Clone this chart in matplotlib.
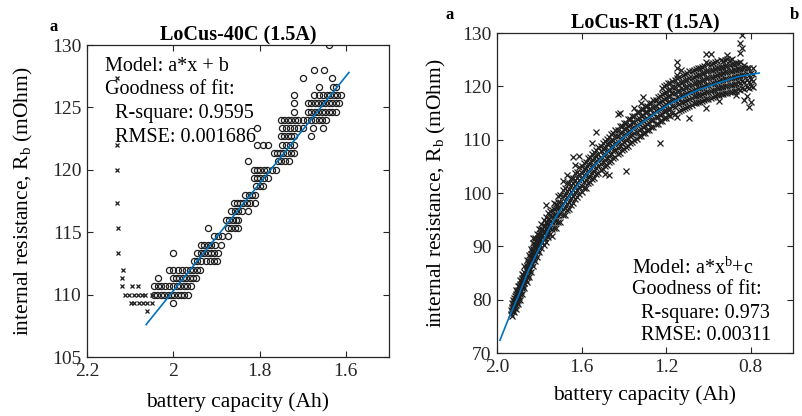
import matplotlib
matplotlib.use("Agg")
import matplotlib.pyplot as plt

plt.rcParams['font.family'] = ['Liberation Serif', 'DejaVu Serif']
plt.rcParams['mathtext.fontset'] = 'custom'
plt.rcParams['mathtext.rm'] = 'Liberation Serif'
plt.rcParams['mathtext.it'] = 'Liberation Serif:italic'
plt.rcParams['mathtext.bf'] = 'Liberation Serif:bold'

# ---------------- data: left panel (LoCus-40C) ----------------
# excluded points ('x' markers): capacity, resistance
excl_cap = [2.060, 2.098, 2.090, 2.080, 2.070, 2.060, 2.050,
            2.112, 2.102, 2.092, 2.082, 2.072, 2.065, 2.049,
            2.119, 2.095, 2.081, 2.119, 2.116, 2.128, 2.128,
            2.130, 2.130, 2.130, 2.130]
excl_res = [108.67, 109.33, 109.33, 109.33, 109.33, 109.33, 109.33,
            110.0, 110.0, 110.0, 110.0, 110.0, 110.0, 110.0,
            110.67, 110.67, 110.67, 111.33, 112.0, 113.33, 115.33,
            117.33, 120.0, 122.0, 127.33]

# fitted points ('o' markers), grouped by resistance level
fit_rows = {
    109.33: [2.0],
    110.00: [2.045, 2.037, 2.029, 2.021, 2.013, 2.005, 1.998, 1.990, 1.983, 1.975, 1.967],
    110.67: [2.044, 2.036, 2.028, 2.020, 2.010, 2.000, 1.992, 1.984, 1.976, 1.968, 1.960],
    111.33: [2.035, 2.000, 1.993, 1.986, 1.978, 1.970, 1.962, 1.955, 1.947],
    112.00: [2.010, 2.000, 1.990, 1.980, 1.970, 1.962, 1.955, 1.945, 1.938],
    112.67: [1.953, 1.945, 1.935, 1.925, 1.915, 1.905, 1.898],
    113.33: [2.000, 1.944, 1.936, 1.928, 1.920, 1.912, 1.905, 1.897],
    114.00: [1.936, 1.928, 1.920, 1.912, 1.904, 1.890],
    114.67: [1.906, 1.896, 1.887, 1.873],
    115.33: [1.919, 1.874, 1.866, 1.858, 1.850],
    116.00: [1.878, 1.870, 1.862, 1.855, 1.849],
    116.67: [1.866, 1.858, 1.850, 1.840, 1.828],
    117.33: [1.860, 1.852, 1.845, 1.838, 1.830, 1.822, 1.810],
    118.00: [1.833, 1.825, 1.818, 1.810],
    118.67: [1.809, 1.800, 1.791],
    119.33: [1.814, 1.806, 1.798, 1.790, 1.781],
    120.00: [1.814, 1.806, 1.798, 1.790, 1.782, 1.772, 1.763],
    120.67: [1.828, 1.758, 1.750, 1.742, 1.733],
    121.33: [1.767, 1.760, 1.752, 1.745, 1.737, 1.728, 1.720],
    122.00: [1.805, 1.793, 1.781, 1.747, 1.738, 1.729, 1.720],
    122.67: [1.751, 1.743, 1.735, 1.727, 1.720, 1.681],
    123.33: [1.805, 1.747, 1.738, 1.729, 1.720, 1.710, 1.700, 1.677, 1.653],
    124.00: [1.751, 1.743, 1.735, 1.727, 1.718, 1.710, 1.700, 1.690, 1.680,
             1.672, 1.663, 1.655, 1.647],
    124.67: [1.720, 1.688, 1.680, 1.672, 1.664, 1.656, 1.648, 1.640, 1.632, 1.623],
    125.33: [1.720, 1.688, 1.680, 1.672, 1.664, 1.656, 1.648, 1.640, 1.632, 1.624, 1.616],
    126.00: [1.720, 1.674, 1.662, 1.652, 1.644, 1.636, 1.628, 1.620, 1.612],
    126.67: [1.663, 1.630, 1.622],
    127.33: [1.700, 1.633],
    128.00: [1.674, 1.651],
    130.00: [1.640],
}

lin_fit_cap = [2.063, 1.593]
lin_fit_res = [107.6, 127.8]

# ---------------- data: right panel (LoCus-RT) ----------------
rt_cols = {
    1.93: [76.9, 77.8, 78.6, 79.4],
    1.92: [77.6, 78.5, 79.6, 80.4],
    1.91: [78.2, 79.0, 80.1, 81.0, 81.8],
    1.90: [79.1, 80.0, 80.9, 81.9, 82.6],
    1.89: [80.0, 81.0, 81.8, 82.9, 83.6],
    1.88: [81.0, 82.1, 83.0, 84.1, 84.9],
    1.87: [82.1, 83.2, 84.0, 85.1, 86.3],
    1.86: [83.3, 84.2, 85.4, 86.3, 87.4],
    1.85: [84.3, 85.4, 86.5, 87.3, 88.4],
    1.84: [85.2, 86.6, 87.4, 88.6, 89.5],
    1.83: [86.4, 87.6, 88.6, 89.5, 90.7, 91.5],
    1.82: [87.3, 88.3, 89.6, 90.4, 91.6],
    1.81: [88.0, 89.1, 90.3, 91.2, 92.4],
    1.80: [88.9, 90.0, 91.0, 92.2, 93.3],
    1.79: [89.6, 90.8, 91.9, 93.0, 94.1],
    1.78: [90.2, 91.5, 92.6, 93.8, 94.9],
    1.77: [90.9, 92.2, 93.4, 94.5, 95.5, 97.8],
    1.76: [91.7, 92.9, 94.1, 95.2, 96.2],
    1.75: [92.3, 93.5, 94.7, 95.8, 96.6],
    1.73: [93.5, 94.8, 95.9, 97.0, 98.2],
    1.71: [94.6, 95.9, 97.1, 98.3, 99.4],
    1.69: [95.8, 97.0, 98.2, 99.5, 100.6, 102.2],
    1.67: [96.9, 98.0, 99.3, 100.4, 101.8, 103.4],
    1.65: [97.8, 99.0, 100.2, 101.5, 102.8],
    1.63: [98.9, 100.1, 101.4, 102.5, 103.7, 105.2],
    1.61: [99.8, 101.1, 102.4, 103.6, 104.8, 106.9],
    1.59: [100.9, 102.0, 103.3, 104.5, 105.6],
    1.57: [101.9, 103.0, 104.2, 105.4, 106.6],
    1.55: [102.6, 103.8, 105.0, 106.1, 107.3, 109.4],
    1.53: [103.5, 104.7, 105.8, 107.0, 108.1, 111.4],
    1.51: [104.3, 105.5, 106.6, 107.8, 108.9],
    1.49: [105.0, 106.2, 107.4, 108.5, 109.8, 103.6],
    1.47: [105.8, 107.0, 108.1, 109.3, 110.5, 103.4],
    1.45: [106.6, 107.8, 108.9, 110.0, 111.2],
    1.43: [107.3, 108.5, 109.6, 110.7, 111.9, 114.8],
    1.41: [108.0, 109.2, 110.3, 111.4, 112.5],
    1.39: [108.7, 109.9, 111.0, 112.1, 113.2, 104.1],
    1.37: [109.4, 110.6, 111.6, 112.7, 113.9],
    1.35: [110.0, 111.2, 112.3, 113.4, 114.5, 116.0],
    1.33: [110.6, 111.8, 112.9, 114.0, 115.1],
    1.31: [111.2, 112.4, 113.5, 114.6, 115.7, 118.0],
    1.29: [111.8, 113.0, 114.1, 115.2, 116.3],
    1.27: [112.4, 113.6, 114.7, 115.8, 116.9],
    1.25: [113.0, 114.2, 115.3, 116.4, 117.5],
    1.23: [113.5, 114.7, 115.8, 117.0, 118.2, 109.4],
    1.21: [114.0, 115.3, 116.4, 117.6, 118.8, 120.0],
    1.19: [114.6, 115.8, 117.0, 118.2, 119.4, 120.6],
    1.17: [115.0, 116.3, 117.5, 118.7, 119.9, 121.0],
    1.15: [114.2, 116.8, 118.0, 119.2, 120.4, 121.6, 124.5, 123.4, 122.1],
    1.13: [115.6, 117.0, 118.3, 119.6, 120.8, 123.0],
    1.11: [116.0, 117.3, 118.6, 119.9, 121.1, 122.3],
    1.09: [114.0, 116.4, 117.7, 119.0, 120.2, 121.5, 122.8],
    1.07: [116.8, 118.1, 119.3, 120.6, 121.8, 123.0],
    1.05: [117.0, 118.3, 119.6, 120.9, 122.1, 123.4],
    1.03: [117.3, 118.6, 119.9, 121.2, 122.5, 123.7],
    1.01: [115.9, 117.6, 118.9, 120.2, 121.5, 122.8, 124.6, 126.1],
    0.99: [117.9, 119.2, 120.5, 121.8, 123.0, 124.2, 126.1],
    0.97: [118.1, 119.4, 120.7, 122.0, 123.3, 124.5],
    0.95: [117.3, 118.4, 119.7, 121.0, 122.3, 123.5],
    0.93: [118.6, 119.9, 121.2, 122.5, 123.7, 124.8],
    0.91: [118.8, 120.1, 121.4, 122.7, 123.9, 125.1, 125.9],
    0.89: [119.0, 120.3, 121.6, 122.9, 124.1, 125.2],
    0.87: [118.4, 119.2, 120.5, 121.8, 123.0, 124.3],
    0.85: [119.4, 120.7, 122.0, 123.2, 124.5, 126.3, 128.1],
    0.84: [129.6, 127.2],
    0.83: [117.4, 119.5, 120.8, 122.1, 123.4, 124.0],
    0.81: [116.1, 119.6, 120.9, 122.2, 123.5],
    0.79: [119.8, 121.0, 122.3, 123.4],
}

# further points between the columns above
rt_cols_mid = {
    1.935: [77.3, 78.1], 1.925: [78.0, 79.1, 80.0], 1.915: [78.8, 79.8, 80.7],
    1.905: [79.5, 80.6, 81.4], 1.895: [80.5, 81.4, 82.5], 1.885: [81.6, 82.6, 83.5],
    1.875: [82.6, 83.7, 84.6], 1.865: [83.7, 84.8, 85.8], 1.855: [84.7, 85.9, 86.9],
    1.845: [85.8, 86.9, 88.0], 1.835: [86.8, 88.0, 89.1], 1.825: [87.8, 88.9, 90.0],
    1.815: [88.6, 89.7, 90.8], 1.805: [89.4, 90.5, 91.6], 1.795: [90.2, 91.3, 92.5],
    1.785: [90.9, 92.0, 93.2], 1.775: [91.6, 92.8, 93.9], 1.765: [92.3, 93.5, 94.6],
    1.74: [92.0, 93.3, 94.5, 95.6, 96.9],
    1.72: [93.5, 94.7, 95.9, 97.2, 98.0],
    1.70: [94.6, 96.0, 97.3, 98.4, 99.6],
    1.68: [95.9, 97.1, 98.5, 99.7, 100.9],
    1.66: [97.0, 98.3, 99.5, 100.7, 101.9],
    1.64: [98.1, 99.4, 100.6, 101.8, 102.9, 106.8],
    1.62: [99.2, 100.5, 101.7, 102.9, 104.0],
    1.60: [100.1, 101.4, 102.7, 103.8, 105.0],
    1.58: [101.0, 102.4, 103.6, 104.7, 105.9],
    1.56: [102.0, 103.2, 104.5, 105.7, 106.8],
    1.54: [102.8, 104.1, 105.3, 106.6, 107.7],
    1.52: [103.7, 105.0, 106.3, 107.4, 108.6],
    1.50: [104.5, 105.8, 107.1, 108.2, 109.4],
    1.48: [105.3, 106.6, 107.9, 109.1, 110.2],
    1.46: [106.0, 107.3, 108.6, 109.8, 111.0],
    1.44: [106.8, 108.1, 109.4, 110.6, 111.8],
    1.42: [107.5, 108.8, 110.1, 111.3, 112.5, 115.0],
    1.40: [108.2, 109.5, 110.8, 112.0, 113.2],
    1.38: [108.8, 110.1, 111.4, 112.6, 113.8],
    1.36: [109.5, 110.8, 112.1, 113.3, 114.5],
    1.34: [110.1, 111.4, 112.7, 113.9, 115.1],
    1.32: [110.7, 112.0, 113.3, 114.5, 115.7, 116.9],
    1.30: [111.3, 112.6, 113.9, 115.1, 116.3],
    1.28: [111.9, 113.2, 114.5, 115.7, 116.9],
    1.26: [112.4, 113.7, 115.0, 116.2, 117.4],
    1.24: [113.0, 114.3, 115.6, 116.8, 118.0],
    1.22: [113.5, 114.8, 116.1, 117.3, 118.5, 119.6],
    1.20: [114.0, 115.3, 116.6, 117.8, 119.0, 120.2],
    1.18: [114.4, 115.7, 117.0, 118.2, 119.4, 120.7],
    1.16: [114.9, 116.2, 117.5, 118.7, 119.9, 121.2],
    1.14: [115.3, 116.6, 117.9, 119.1, 120.3, 121.7],
    1.12: [115.7, 117.0, 118.3, 119.5, 120.8, 122.1],
    1.10: [116.1, 117.4, 118.7, 119.9, 121.2, 122.5],
    1.08: [116.5, 117.8, 119.1, 120.3, 121.6, 122.9],
    1.06: [116.8, 118.1, 119.4, 120.6, 121.9, 123.2],
    1.04: [117.1, 118.4, 119.7, 120.9, 122.2, 123.5],
    1.02: [117.4, 118.7, 120.0, 121.2, 122.5, 123.8],
    1.00: [117.7, 119.0, 120.3, 121.5, 122.8, 124.1],
    0.98: [118.0, 119.3, 120.6, 121.8, 123.1, 124.4],
    0.96: [118.3, 119.6, 120.9, 122.1, 123.4, 124.7],
    0.94: [118.5, 119.8, 121.1, 122.3, 123.6, 124.9],
    0.92: [118.8, 120.1, 121.4, 122.6, 123.9, 125.0],
    0.90: [119.0, 120.3, 121.6, 122.8, 124.0, 124.9],
    0.88: [119.2, 120.5, 121.8, 123.0, 124.1],
    0.86: [119.5, 120.8, 122.0, 123.2, 124.3],
    0.84: [119.7, 121.0, 122.2, 123.3],
    0.82: [119.9, 121.2, 122.4, 123.5, 118.2],
    0.80: [120.1, 121.3, 122.5, 117.0],
}

pow_fit_cap = [1.986, 1.95, 1.90, 1.85, 1.80, 1.75, 1.70, 1.65, 1.60, 1.55, 1.50,
               1.45, 1.40, 1.35, 1.30, 1.25, 1.20, 1.15, 1.10, 1.05, 1.00, 0.95,
               0.90, 0.85, 0.76]
pow_fit_res = [72.4, 76.0, 80.6, 85.6, 89.6, 93.6, 96.9, 99.8, 102.4, 104.7, 106.8,
               108.7, 110.5, 112.1, 113.6, 115.0, 116.3, 117.4, 118.4, 119.3, 120.0,
               120.7, 121.3, 121.9, 122.5]

FIT_BLUE = '#0072BD'
EDGE = '#262626'
MARK = '#1e1e1e'

fig = plt.figure(figsize=(8.02, 4.16), dpi=100)
ax1 = fig.add_axes([0.1085, 0.1418, 0.3766, 0.75])
ax2 = fig.add_axes([0.6197, 0.1514, 0.3691, 0.7692])

# ----- left panel -----
ax1.plot(excl_cap, excl_res, linestyle='none', marker='x', markersize=3.2,
         markeredgewidth=0.9, color=MARK, zorder=3)
for lvl, caps in fit_rows.items():
    ax1.plot(caps, [lvl] * len(caps), linestyle='none', marker='o', markersize=4.4,
             markerfacecolor='none', markeredgewidth=0.9, markeredgecolor=MARK, zorder=3)
ax1.plot(lin_fit_cap, lin_fit_res, color=FIT_BLUE, linewidth=1.2, zorder=4)
ax1.set_xlim(2.2, 1.5)
ax1.set_ylim(105, 130)
ax1.set_xticks([2.2, 2.0, 1.8, 1.6])
ax1.set_xticklabels(['2.2', '2', '1.8', '1.6'])
ax1.set_yticks([105, 110, 115, 120, 125, 130])
ax1.set_title('LoCus-40C (1.5A)', fontsize=14.5, fontweight='bold', pad=3)

left_txt = [('Model: a*x + b', 0.06, 0.932), ('Goodness of fit:', 0.06, 0.858),
            ('R-square: 0.9595', 0.093, 0.779), ('RMSE: 0.001686', 0.093, 0.705)]
for s, x, y in left_txt:
    ax1.text(x, y, s, transform=ax1.transAxes, fontsize=14.5, va='center', ha='left')

# ----- right panel -----
for cols in (rt_cols, rt_cols_mid):
    for cap, vals in cols.items():
        ax2.plot([cap] * len(vals), vals, linestyle='none', marker='x', markersize=3.8,
                 markeredgewidth=0.9, color=MARK, zorder=3)
ax2.plot(pow_fit_cap, pow_fit_res, color=FIT_BLUE, linewidth=1.2, zorder=4)
ax2.set_xlim(2.0, 0.6)
ax2.set_ylim(70, 130)
ax2.set_xticks([2.0, 1.6, 1.2, 0.8])
ax2.set_xticklabels(['2.0', '1.6', '1.2', '0.8'])
ax2.set_yticks([70, 80, 90, 100, 110, 120, 130])
ax2.set_title('LoCus-RT (1.5A)', fontsize=14.5, fontweight='bold', pad=3)

right_txt = [('Model: a*x$^{\\mathrm{b}}$+c', 0.456, 0.266), ('Goodness of fit:', 0.456, 0.197),
             ('R-square: 0.973', 0.486, 0.125), ('RMSE: 0.00311', 0.486, 0.056)]
for s, x, y in right_txt:
    ax2.text(x, y, s, transform=ax2.transAxes, fontsize=14.5, va='center', ha='left')

ylabel = 'internal resistance, R$_{\\mathrm{b}}$ (mOhm)'
for ax, ylx, xly in [(ax1, -0.212, -0.144), (ax2, -0.203, -0.131)]:
    ax.set_xlabel('battery capacity (Ah)', fontsize=15.5)
    ax.set_ylabel(ylabel, fontsize=15.5)
    ax.xaxis.label.set_va('center')
    ax.yaxis.label.set_va('center')
    ax.yaxis.set_label_coords(ylx, 0.5)
    ax.xaxis.set_label_coords(0.5, xly)
    ax.tick_params(direction='in', top=True, right=True, length=4, width=0.8,
                   labelsize=14, colors=EDGE, labelcolor='#262626')
    ax.tick_params(axis='x', pad=4)
    ax.tick_params(axis='y', pad=4)
    for sp in ax.spines.values():
        sp.set_color(EDGE)
        sp.set_linewidth(0.9)

fig.text(50 / 802, 1 - 27 / 416, 'a', fontsize=12, fontweight='bold', ha='left', va='center')
fig.text(445 / 802, 1 - 15 / 416, 'a', fontsize=12, fontweight='bold', ha='left', va='center')
fig.text(799 / 802, 1 - 15 / 416, 'b', fontsize=12, fontweight='bold', ha='right', va='center')

fig.savefig('out.png', dpi=100)
